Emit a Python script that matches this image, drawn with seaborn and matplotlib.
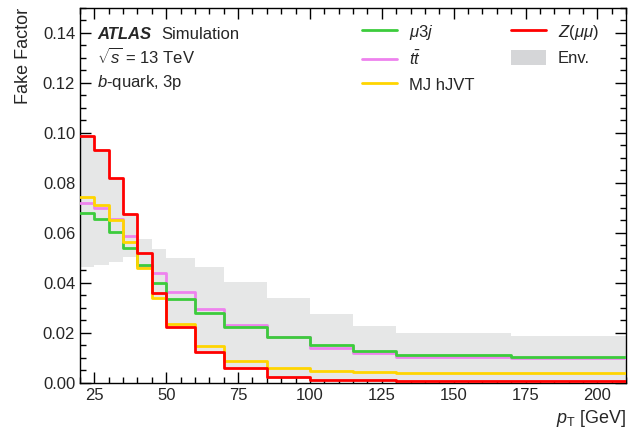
import numpy as np
import pandas as pd
import matplotlib
matplotlib.use("Agg")
import matplotlib.pyplot as plt
import seaborn as sns
from matplotlib.patches import Patch
from matplotlib.lines import Line2D
from matplotlib.ticker import MultipleLocator

# ---- data ----
edges = [20, 25, 30, 35, 40, 45, 50, 60, 70, 85, 100, 115, 130, 170, 210]
mu3j = [0.0681, 0.0655, 0.0605, 0.0541, 0.0471, 0.0399, 0.0336, 0.0280, 0.0225,
        0.0185, 0.0152, 0.0128, 0.0112, 0.0104]
ttbar = [0.0721, 0.0699, 0.0655, 0.0589, 0.0468, 0.0439, 0.0365, 0.0294, 0.0230,
         0.0182, 0.0141, 0.0119, 0.0105, 0.0099]
mjhjvt = [0.0745, 0.0712, 0.0652, 0.0565, 0.0459, 0.0341, 0.0235, 0.0146, 0.0088,
          0.0060, 0.0048, 0.0043, 0.0041, 0.0039]
zmumu = [0.0988, 0.0932, 0.0819, 0.0676, 0.0519, 0.0360, 0.0224, 0.0124, 0.0059,
         0.0025, 0.0012, 0.0010, 0.0009, 0.0008]
env_hi = [0.0988, 0.0932, 0.0819, 0.0676, 0.0575, 0.0535, 0.0501, 0.0465, 0.0405,
          0.0339, 0.0276, 0.0229, 0.0199, 0.0188]
env_lo = [0.0465, 0.0472, 0.0485, 0.0505, 0.0460, 0.0345, 0.0224, 0.0124, 0.0059,
          0.0025, 0.0012, 0.0010, 0.0009, 0.0008]

labels = [r"$\mu3j$", r"$t\bar{t}$", "MJ hJVT", r"$Z(\mu\mu)$", "Env."]
colors = {"mu3j": "#3ccc3c", "ttbar": "#ee82ee", "mjhjvt": "#ffd500", "zmumu": "#ff0000"}

sns.set_style("ticks")
plt.rcParams["font.family"] = ["Liberation Sans", "DejaVu Sans"]
plt.rcParams["mathtext.fontset"] = "custom"
plt.rcParams["mathtext.rm"] = "Liberation Sans"
plt.rcParams["mathtext.it"] = "Liberation Sans:italic"
plt.rcParams["mathtext.bf"] = "Liberation Sans:bold"

fig = plt.figure(figsize=(6.37, 4.36), dpi=100)
ax = fig.add_axes([0.1256, 0.1216, 0.8574, 0.8601])

edges_a = np.array(edges)
centers = 0.5 * (edges_a[:-1] + edges_a[1:])

# envelope
lo_s = np.append(env_lo, env_lo[-1])
hi_s = np.append(env_hi, env_hi[-1])
ax.fill_between(edges_a, lo_s, hi_s, step="post", color="#e6e7e7", lw=0, zorder=1)

for key, vals in [("ttbar", ttbar), ("mu3j", mu3j), ("mjhjvt", mjhjvt), ("zmumu", zmumu)]:
    df = pd.DataFrame({"pt": centers, "ff": vals})
    sns.histplot(data=df, x="pt", weights="ff", bins=edges, element="step", fill=False,
                 color=colors[key], linewidth=2.0, ax=ax, zorder=3)

ax.set_xlim(20, 210)
ax.set_ylim(0, 0.15)
ax.xaxis.set_major_locator(MultipleLocator(25))
ax.xaxis.set_minor_locator(MultipleLocator(5))
ax.yaxis.set_major_locator(MultipleLocator(0.02))
ax.yaxis.set_minor_locator(MultipleLocator(0.005))
ax.yaxis.set_major_formatter(matplotlib.ticker.FormatStrFormatter("%.2f"))
ax.tick_params(which="both", direction="in", top=True, right=True, labelsize=12, color="black")
ax.tick_params(which="major", length=8, width=1)
ax.tick_params(which="minor", length=4, width=1)
for s in ax.spines.values():
    s.set_linewidth(1.0)
    s.set_color("black")

ax.set_xlabel(r"$p_{\mathrm{T}}$ [GeV]", fontsize=13, loc="right")
ax.set_ylabel("Fake Factor", fontsize=13, loc="top", labelpad=7.5)

ax.text(0.032, 0.917, "ATLAS", transform=ax.transAxes, fontsize=12,
        fontweight="bold", fontstyle="italic")
ax.text(0.149, 0.917, "Simulation", transform=ax.transAxes, fontsize=12)
ax.text(0.032, 0.851, r"$\sqrt{s}$ = 13 TeV", transform=ax.transAxes, fontsize=12)
ax.text(0.032, 0.789, r"$b$-quark, 3p", transform=ax.transAxes, fontsize=12)

handles = [Line2D([], [], color=colors["mu3j"], lw=2),
           Line2D([], [], color=colors["ttbar"], lw=2),
           Line2D([], [], color=colors["mjhjvt"], lw=2),
           Line2D([], [], color=colors["zmumu"], lw=2),
           Patch(facecolor="#d5d6d8", edgecolor="none")]
ax.legend(handles, labels, ncol=2, loc="upper left", bbox_to_anchor=(0.489, 1.0),
          frameon=False, fontsize=12, handlelength=2.1, handleheight=1.0,
          columnspacing=2.2, labelspacing=0.5, handletextpad=0.7)

fig.savefig("out.png", dpi=100)
